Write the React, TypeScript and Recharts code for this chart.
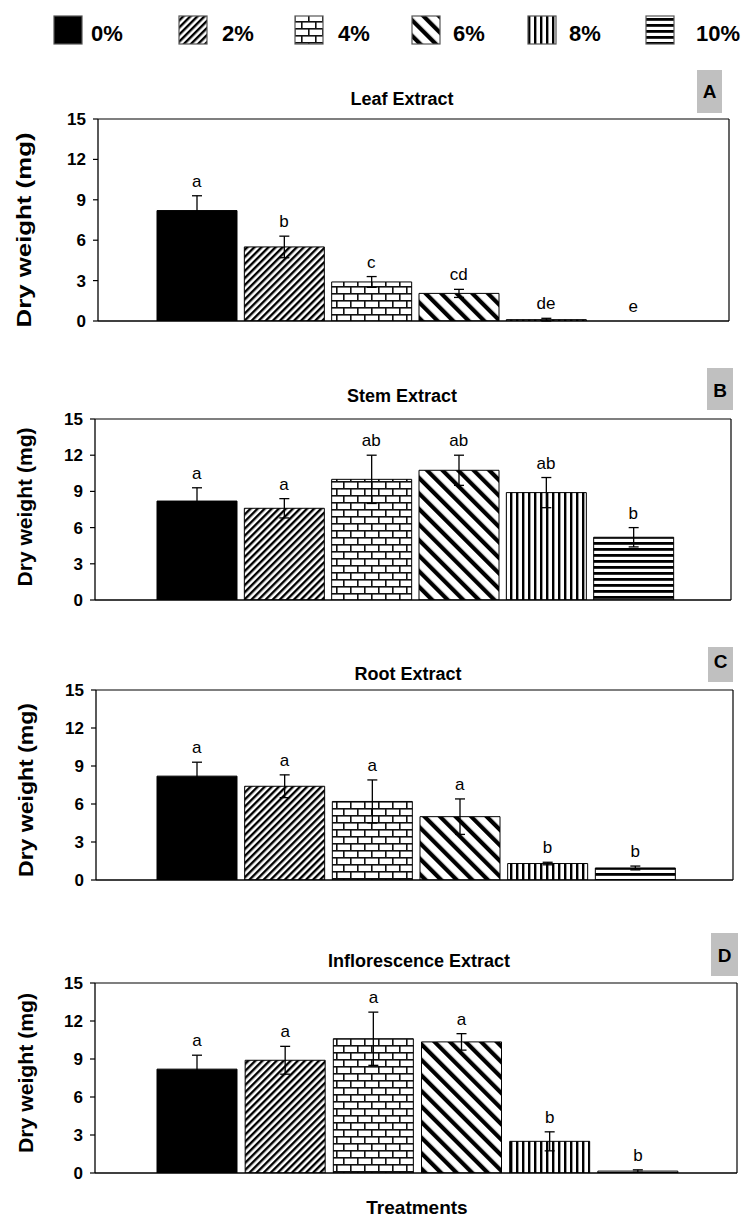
import {
  ComposedChart, Bar, Cell, ErrorBar, Scatter, XAxis, YAxis,
} from 'recharts';

const FONT = "'Liberation Sans', Arial, Helvetica, sans-serif";

// treatments (extract concentration)
const treatments = ['0%', '2%', '4%', '6%', '8%', '10%'];

// dry weight (mg)
const leafMeans = [8.2, 5.5, 2.9, 2.05, 0.1, 0];
const leafErrors = [1.1, 0.8, 0.4, 0.3, 0.1, 0];
const leafLetters = ['a', 'b', 'c', 'cd', 'de', 'e'];

const stemMeans = [8.2, 7.6, 10.0, 10.75, 8.9, 5.2];
const stemErrors = [1.1, 0.8, 2.0, 1.25, 1.25, 0.8];
const stemLetters = ['a', 'a', 'ab', 'ab', 'ab', 'b'];

const rootMeans = [8.2, 7.4, 6.2, 5.0, 1.3, 0.95];
const rootErrors = [1.1, 0.9, 1.7, 1.4, 0.1, 0.15];
const rootLetters = ['a', 'a', 'a', 'a', 'b', 'b'];

const inflMeans = [8.2, 8.9, 10.6, 10.35, 2.5, 0.15];
const inflErrors = [1.1, 1.1, 2.1, 0.65, 0.75, 0.1];
const inflLetters = ['a', 'a', 'a', 'a', 'b', 'b'];

const yTicks = [0, 3, 6, 9, 12, 15];

// fills, one per treatment
const patternIds = ['solid0', 'hatch2', 'brick4', 'hatch6', 'vert8', 'horiz10'];

const panels = [
  { title: 'Leaf Extract', tag: 'A', means: leafMeans, errors: leafErrors, letters: leafLetters,
    top: 119, h: 202, left: 98, right: 729, padL: 55, padR: 52,
    titleX: 402, titleY: 105, tagBox: [697, 70, 25, 43], tagY: 98, yl: [23, 230, 195] },
  { title: 'Stem Extract', tag: 'B', means: stemMeans, errors: stemErrors, letters: stemLetters,
    top: 419, h: 181, left: 95, right: 731, padL: 58, padR: 54,
    titleX: 402, titleY: 402, tagBox: [707, 368, 26, 42], tagY: 397, yl: [24, 507, 159] },
  { title: 'Root Extract', tag: 'C', means: rootMeans, errors: rootErrors, letters: rootLetters,
    top: 690, h: 190, left: 96, right: 733, padL: 57, padR: 54,
    titleX: 408, titleY: 680, tagBox: [708, 647, 25, 35], tagY: 668, yl: [25, 790, 174] },
  { title: 'Inflorescence Extract', tag: 'D', means: inflMeans, errors: inflErrors, letters: inflLetters,
    top: 983, h: 190, left: 95, right: 737, padL: 58, padR: 55,
    titleX: 419, titleY: 967, tagBox: [711, 933, 27, 43], tagY: 962, yl: [25, 1073, 160] },
];

const legendBoxX = [54, 179, 295, 412, 528, 646];
const legendTextX = [91, 222, 338, 453, 569, 696];

function Patterns() {
  return (
    <svg width={0} height={0} style={{ position: 'absolute' }}>
      <defs>
        <pattern id="solid0" width={4} height={4} patternUnits="userSpaceOnUse">
          <rect width={4} height={4} fill="#000" />
        </pattern>
        <pattern id="hatch2" width={5} height={5} patternUnits="userSpaceOnUse" patternTransform="rotate(45)">
          <rect width={5} height={5} fill="#fff" />
          <rect width={2.4} height={5} fill="#000" />
        </pattern>
        <pattern id="brick4" width={28} height={14} patternUnits="userSpaceOnUse">
          <rect width={28} height={14} fill="#fff" />
          <rect x={0} y={0} width={28} height={1.6} fill="#111" />
          <rect x={0} y={7} width={28} height={1.6} fill="#111" />
          <rect x={0} y={0} width={1.6} height={7} fill="#111" />
          <rect x={14} y={0} width={1.6} height={7} fill="#111" />
          <rect x={7} y={7} width={1.6} height={7} fill="#111" />
          <rect x={21} y={7} width={1.6} height={7} fill="#111" />
        </pattern>
        <pattern id="hatch6" width={11} height={11} patternUnits="userSpaceOnUse" patternTransform="rotate(-45)">
          <rect width={11} height={11} fill="#fff" />
          <rect width={4.2} height={11} fill="#000" />
        </pattern>
        <pattern id="vert8" width={6} height={6} patternUnits="userSpaceOnUse">
          <rect width={6} height={6} fill="#fff" />
          <rect width={2.4} height={6} fill="#000" />
        </pattern>
        <pattern id="horiz10" width={6} height={6} patternUnits="userSpaceOnUse">
          <rect width={6} height={6} fill="#fff" />
          <rect width={6} height={2.8} fill="#000" />
        </pattern>
      </defs>
    </svg>
  );
}

function LetterMark(props: any) {
  const { cx, cy, payload } = props;
  if (cx == null || cy == null) return null;
  return (
    <text x={cx} y={cy - 9} textAnchor="middle" fontSize={17} fontFamily={FONT} fill="#000">
      {payload.letter}
    </text>
  );
}

function Panel({ p }: { p: any }) {
  const data = treatments.map((t, i) => ({
    treatment: t, mean: p.means[i], err: p.errors[i], letter: p.letters[i],
  }));
  const mt = 14;
  const mb = 14;
  return (
    <div style={{ position: 'absolute', left: 0, top: p.top - mt - 1 }}>
      <ComposedChart
        width={745}
        height={mt + 1 + p.h + 1 + mb}
        data={data}
        margin={{ top: mt, right: 745 - p.right - 1, bottom: mb, left: p.left - 40 }}
      >
        <XAxis dataKey="treatment" tick={false} tickLine={false} height={1}
          axisLine={{ stroke: '#000', strokeWidth: 1.3 }} padding={{ left: p.padL, right: p.padR }} />
        <XAxis xAxisId="top" orientation="top" dataKey="treatment" tick={false} tickLine={false} height={1}
          axisLine={{ stroke: '#000', strokeWidth: 1.2 }} padding={{ left: p.padL, right: p.padR }} />
        <YAxis domain={[0, 15]} ticks={yTicks} interval={0} width={40} allowDataOverflow
          tickSize={5} tickMargin={7} axisLine={{ stroke: '#000', strokeWidth: 1.3 }}
          tickLine={{ stroke: '#000', strokeWidth: 1.2 }}
          tick={{ fill: '#000', fontSize: 17, fontWeight: 'bold', fontFamily: FONT }} />
        <YAxis yAxisId="right" orientation="right" domain={[0, 15]} width={1} tick={false} tickLine={false}
          axisLine={{ stroke: '#000', strokeWidth: 1.2 }} />
        <Bar dataKey="mean" barSize={80} stroke="#000" strokeWidth={1} isAnimationActive={false}>
          {data.map((d, i) => (
            <Cell key={d.treatment} fill={`url(#${patternIds[i]})`} />
          ))}
          <ErrorBar dataKey="err" width={5} stroke="#000" strokeWidth={1.3} isAnimationActive={false} />
        </Bar>
        <Scatter dataKey={(d: any) => d.mean + d.err} shape={<LetterMark />} isAnimationActive={false} />
      </ComposedChart>
    </div>
  );
}

export default function App() {
  return (
    <div style={{ position: 'absolute', left: 0, top: 0, width: 745, height: 1220, overflow: 'hidden',
      background: '#fff', fontFamily: FONT }}>
      <Patterns />
      <svg width={745} height={1220} style={{ position: 'absolute', left: 0, top: 0 }}>
        {/* legend */}
        {treatments.map((t, i) => (
          <g key={t}>
            <rect x={legendBoxX[i]} y={16} width={28} height={28} fill={`url(#${patternIds[i]})`}
              stroke="#555" strokeWidth={1.2} />
            <text x={legendTextX[i]} y={41} fontSize={22} fontWeight="bold" fontFamily={FONT}>{t}</text>
          </g>
        ))}
        {panels.map((p) => (
          <g key={p.tag}>
            <text x={p.titleX} y={p.titleY} textAnchor="middle" fontSize={18} fontWeight="bold" fontFamily={FONT}>
              {p.title}
            </text>
            <rect x={p.tagBox[0]} y={p.tagBox[1]} width={p.tagBox[2]} height={p.tagBox[3]} fill="#c0c0c0" />
            <text x={p.tagBox[0] + p.tagBox[2] / 2} y={p.tagY} textAnchor="middle" fontSize={19}
              fontWeight="bold" fontFamily={FONT}>{p.tag}</text>
            <text transform={`translate(${p.yl[0]},${p.yl[1]}) rotate(-90)`} textAnchor="middle"
              dominantBaseline="central" fontSize={21} fontWeight="bold" fontFamily={FONT}
              textLength={p.yl[2]} lengthAdjust="spacingAndGlyphs">Dry weight (mg)</text>
          </g>
        ))}
        <text x={417} y={1214} textAnchor="middle" fontSize={19} fontWeight="bold" fontFamily={FONT}>Treatments</text>
      </svg>
      {panels.map((p) => <Panel key={p.tag} p={p} />)}
    </div>
  );
}
